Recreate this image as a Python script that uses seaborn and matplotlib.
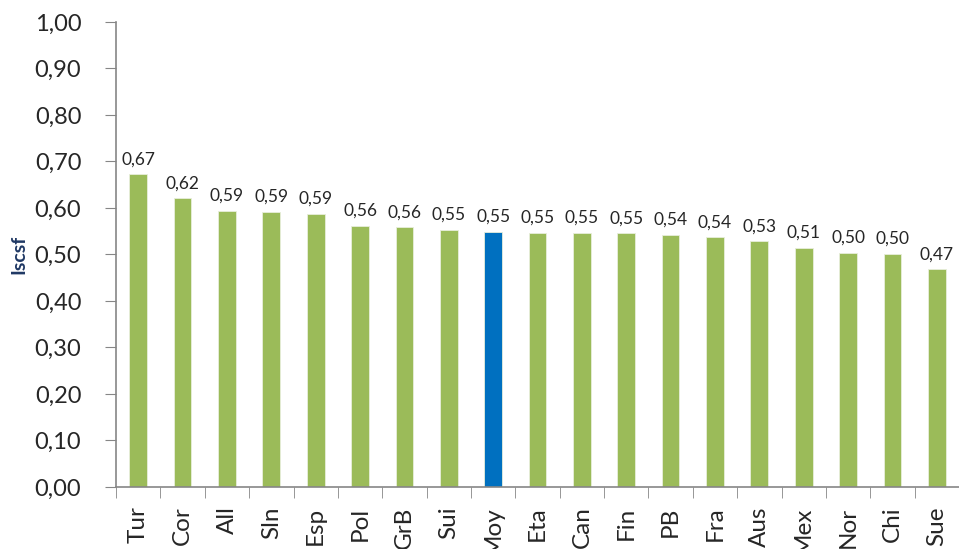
import numpy as np
import pandas as pd
import matplotlib
matplotlib.use("Agg")
import matplotlib.pyplot as plt
import seaborn as sns
from matplotlib.ticker import FixedLocator, FuncFormatter

# donnees
pays = ["Tur", "Cor", "All", "Sln", "Esp", "Pol", "GrB", "Sui", "Moy", "Eta",
        "Can", "Fin", "PB", "Fra", "Aus", "Mex", "Nor", "Chi", "Sue"]
iscsf = [0.672, 0.621, 0.594, 0.592, 0.588, 0.562, 0.558, 0.553, 0.549, 0.547,
         0.547, 0.546, 0.542, 0.537, 0.528, 0.514, 0.503, 0.501, 0.468]
moyenne = "Moy"

vert = "#9BBB59"
bleu = "#0070C0"

df = pd.DataFrame({"pays": pays, "iscsf": iscsf})
couleurs = {p: (bleu if p == moyenne else vert) for p in pays}

sns.set_style("white")
plt.rcParams["font.family"] = ["Lato", "DejaVu Sans"]

fig = plt.figure(figsize=(9.59, 5.49), dpi=100)
ax = fig.add_axes([0.121, 0.113, 0.879, 0.847])

sns.barplot(data=df, x="pays", y="iscsf", hue="pays", palette=couleurs,
            legend=False, width=0.4, saturation=1, ax=ax,
            edgecolor="#E8EEDC", linewidth=0.6)

# etiquettes de valeurs
for cont in ax.containers:
    ax.bar_label(cont, labels=[("%.2f" % b.get_height()).replace(".", ",") for b in cont],
                 padding=5, fontsize=12.5)

ax.set_ylim(0, 1.0)
ax.set_xlim(-0.5, len(pays) - 0.5)
ax.set_yticks(np.arange(0, 1.01, 0.1))
ax.yaxis.set_major_formatter(FuncFormatter(lambda v, p: ("%.2f" % v).replace(".", ",")))
ax.tick_params(axis="y", labelsize=17, length=8, color="#868686", direction="out", left=True, pad=17)

ax.set_xlabel("")
ax.tick_params(axis="x", which="major", length=0, labelsize=17.5, rotation=90, pad=14)
ax.xaxis.set_minor_locator(FixedLocator(np.arange(-0.5, len(pays), 1.0)))
ax.tick_params(axis="x", which="minor", length=8, color="#868686", direction="out", bottom=True)

ax.set_ylabel("Iscsf", fontsize=14, fontweight="bold", color="#1F3864", labelpad=5)

for s in ["top", "right"]:
    ax.spines[s].set_visible(False)
for s in ["left", "bottom"]:
    ax.spines[s].set_color("#868686")
    ax.spines[s].set_linewidth(1.2)

plt.savefig("out.png", dpi=100)
